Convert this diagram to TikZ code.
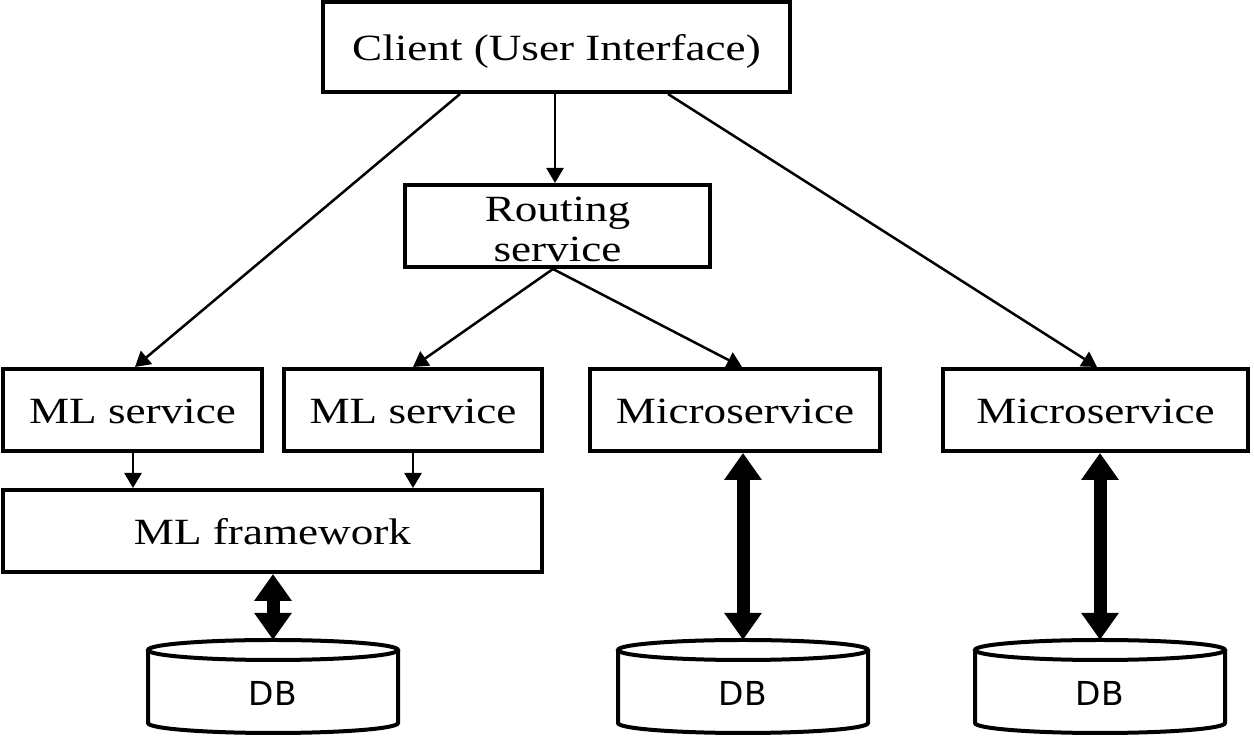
\documentclass[tikz,border=0pt]{standalone}
\usepackage{fontspec}
\setmainfont{Liberation Serif}[FakeStretch=1.22]
\newfontfamily\dbfont{DejaVu Sans}
\usetikzlibrary{arrows.meta,calc}
\begin{document}
\begin{tikzpicture}[x=1pt,y=1pt,
  box/.style={draw, line width=4pt, inner sep=0pt, text height=28pt, text depth=0pt,
              font=\fontsize{37}{40}\selectfont},
  conn/.style={line width=2.5pt, -{Triangle[length=15pt,width=17pt]}},
  dbl/.style={line width=13pt, {Triangle[length=27pt,width=36pt]}-{Triangle[length=27pt,width=36pt]}},
  dbbox/.style={minimum width=250pt, minimum height=93pt, inner sep=0pt},
  cyl/.style={line width=4pt},
  dbtext/.style={font=\dbfont\fontsize{33}{36}\selectfont, inner sep=0pt}]
\useasboundingbox (0,0) rectangle (1254,738);

% boxes
\node[box, minimum width=467pt, minimum height=90pt] (client) at (556.5,691) {Client (User Interface)};
\node[box, minimum width=305pt, minimum height=82pt,
      label={[name=routingtext, align=center, yshift=-3.5pt, inner sep=0pt,
              font=\fontsize{37}{40}\selectfont]center:Routing\\service}] (routing) at (557.5,512) {};
\node[box, minimum width=259pt, minimum height=82pt] (mls1) at (132.5,328) {ML service};
\node[box, minimum width=258pt, minimum height=82pt] (mls2) at (413,328) {ML service};
\node[box, minimum width=290pt, minimum height=82pt] (ms1) at (735,328) {Microservice};
\node[box, minimum width=305pt, minimum height=82pt] (ms2) at (1095.5,328) {Microservice};
\node[box, minimum width=539pt, minimum height=82pt] (mlf) at (272.5,207) {ML framework};

% databases
\foreach \n/\cx in {db1/273, db2/743, db3/1100} {
  \node[dbbox] (\n) at (\cx,51.5) {};
  \draw[cyl] (\cx,88) ellipse[x radius=125, y radius=10];
  \draw[cyl] (\cx-125,88) -- (\cx-125,15)
     arc[start angle=180, end angle=360, x radius=125, y radius=10] -- (\cx+125,88);
  \node[dbtext] (\n-t) at (\cx,44.5) {DB};
}

% thin connectors
\draw[conn] ([xshift=-96.5pt]client.south) -- ([xshift=2.5pt]mls1.north);
\draw[conn] ([xshift=-1.5pt]client.south) -- ([xshift=-1.5pt]client.south |- routing.north);
\draw[conn] ([xshift=111.5pt]client.south) -- ([xshift=1.5pt]ms2.north);
\draw[conn] ([xshift=-4.5pt]routing.south) -- (mls2.north);
\draw[conn] ([xshift=-4.5pt]routing.south) -- ([xshift=7pt]ms1.north);
\draw[conn] ([xshift=0.5pt]mls1.south) -- ([xshift=0.5pt]mls1.south |- mlf.north);
\draw[conn] (mls2.south) -- (mls2.south |- mlf.north);

% thick double arrows
\draw[dbl] (db1.north |- mlf.south) -- (db1.north);
\draw[dbl] (db2.north |- ms1.south) -- (db2.north);
\draw[dbl] (db3.north |- ms2.south) -- (db3.north);
\end{tikzpicture}
\end{document}
